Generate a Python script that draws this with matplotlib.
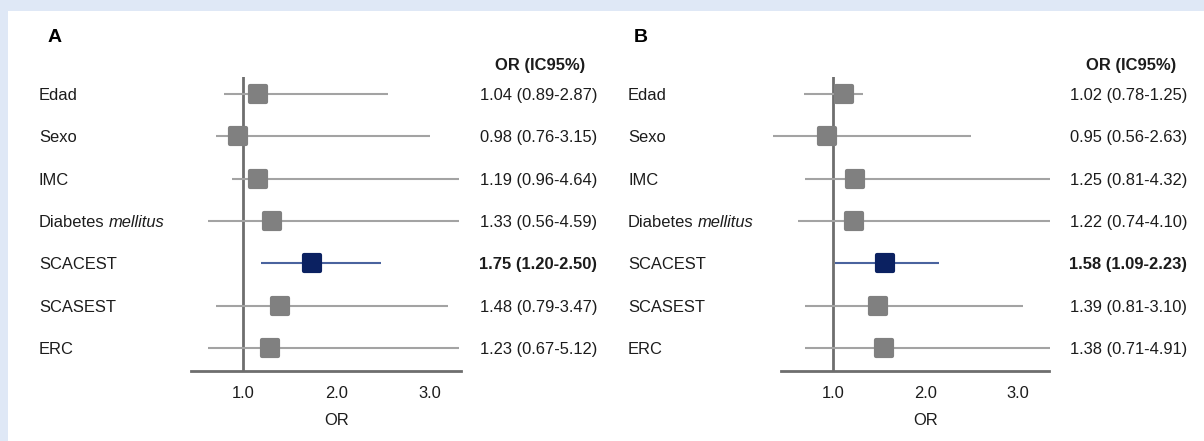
import matplotlib
matplotlib.use("Agg")
import matplotlib.pyplot as plt
from matplotlib.markers import MarkerStyle
from matplotlib.patches import Rectangle
from matplotlib.transforms import blended_transform_factory

plt.rcParams['font.family'] = ['Liberation Sans', 'DejaVu Sans']

# ---------------- data ----------------
variables = ["Edad", "Sexo", "IMC", "Diabetes", "SCACEST", "SCASEST", "ERC"]
italic_suffix = {"Diabetes": "mellitus"}
highlight = "SCACEST"
x_ticks = [1.0, 2.0, 3.0]
x_tick_labels = ["1.0", "2.0", "3.0"]

# Panel A
or_text_a = ["1.04 (0.89-2.87)", "0.98 (0.76-3.15)", "1.19 (0.96-4.64)",
             "1.33 (0.56-4.59)", "1.75 (1.20-2.50)", "1.48 (0.79-3.47)",
             "1.23 (0.67-5.12)"]
est_a = [1.16, 0.95, 1.16, 1.31, 1.74, 1.40, 1.29]
low_a = [0.80, 0.71, 0.88, 0.63, 1.19, 0.71, 0.63]
high_a = [2.55, 3.00, 3.31, 3.31, 2.48, 3.19, 3.31]

# Panel B
or_text_b = ["1.02 (0.78-1.25)", "0.95 (0.56-2.63)", "1.25 (0.81-4.32)",
             "1.22 (0.74-4.10)", "1.58 (1.09-2.23)", "1.39 (0.81-3.10)",
             "1.38 (0.71-4.91)"]
est_b = [1.12, 0.94, 1.24, 1.23, 1.56, 1.49, 1.55]
low_b = [0.69, 0.35, 0.70, 0.62, 1.02, 0.70, 0.70]
high_b = [1.32, 2.49, 3.35, 3.35, 2.15, 3.05, 3.35]

# ---------------- layout (pixels) ----------------
W, H = 1204, 441
fig = plt.figure(figsize=(W / 100, H / 100), dpi=100)
fig.patch.set_facecolor('#dfe8f6')
fig.add_artist(Rectangle((8 / W, 0), 1 - 8 / W, (H - 11) / H,
                         transform=fig.transFigure, facecolor='white',
                         edgecolor='none', zorder=-10))

TXT = '#1c1c1c'
GRAY_LINE = '#a3a3a3'
GRAY_SQ = '#808080'
NAVY_LINE = '#4a639e'
NAVY_SQ = '#0b2161'
AXIS_C = '#6e6e6e'
FS = 11.9

row_top_px, row_bot_px = 94, 348
ax_top_px, ax_bot_px = 77, 371
step = (row_bot_px - row_top_px) / (len(variables) - 1)

panels = [
    dict(letter="A", x1=243, scale=93.5, axl=191, axr=461, lab_x=39,
         val_r=597, head_c=540, let_x=48,
         est=est_a, low=low_a, high=high_a, txt=or_text_a),
    dict(letter="B", x1=833, scale=92.5, axl=781, axr=1049, lab_x=628,
         val_r=1187, head_c=1131, let_x=634,
         est=est_b, low=low_b, high=high_b, txt=or_text_b),
]

sq_marker = MarkerStyle('s', joinstyle='round')

for p in panels:
    ax = fig.add_axes([p['axl'] / W, (H - ax_bot_px) / H,
                       (p['axr'] - p['axl']) / W, (ax_bot_px - ax_top_px) / H])
    ax.set_facecolor('none')
    ax.set_xlim(1 + (p['axl'] - p['x1']) / p['scale'],
                1 + (p['axr'] - p['x1']) / p['scale'])
    ax.set_ylim((ax_bot_px - row_top_px) / step, (ax_top_px - row_top_px) / step)
    for s in ['top', 'right', 'left']:
        ax.spines[s].set_visible(False)
    ax.spines['bottom'].set_color(AXIS_C)
    ax.spines['bottom'].set_linewidth(2.0)
    ax.axvline(1.0, color=AXIS_C, lw=2.0, zorder=1)
    ax.set_yticks([])
    ax.set_xticks(x_ticks, x_tick_labels)
    ax.tick_params(axis='x', length=0, pad=10.5, labelsize=FS, labelcolor=TXT)

    tr_fig_y = blended_transform_factory(ax.transData, fig.transFigure)
    ax.text(2.0, (H - 419) / H, "OR", transform=tr_fig_y, ha='center',
            va='center_baseline', fontsize=FS, color=TXT)

    tr_lab = blended_transform_factory(fig.transFigure, ax.transData)
    for i, var in enumerate(variables):
        hl = var == highlight
        ax.plot([p['low'][i], p['high'][i]], [i, i],
                color=NAVY_LINE if hl else GRAY_LINE, lw=1.5,
                solid_capstyle='butt', zorder=2, clip_on=False)
        c = NAVY_SQ if hl else GRAY_SQ
        ax.plot([p['est'][i]], [i], marker=sq_marker, ms=11, mew=3,
                color=c, mec=c, mfc=c, zorder=3, clip_on=False)
        t = ax.text(p['lab_x'] / W, i, var, transform=tr_lab, ha='left',
                    va='center_baseline', fontsize=FS, color=TXT)
        if var in italic_suffix:
            ax.annotate(italic_suffix[var], xy=(1, 0), xycoords=t,
                        xytext=(3, 0), textcoords='offset points',
                        ha='left', va='bottom', fontsize=FS, color=TXT,
                        style='italic')
        ax.text(p['val_r'] / W, i, p['txt'][i], transform=tr_lab, ha='right',
                va='center_baseline', fontsize=FS, color=TXT,
                fontweight='bold' if hl else 'normal')

    fig.text(p['head_c'] / W, (H - 64) / H, "OR (IC95%)", ha='center',
             va='center_baseline', fontsize=FS, fontweight='bold', color=TXT)
    fig.text(p['let_x'] / W, (H - 35) / H, p['letter'], ha='left',
             va='center_baseline', fontsize=14, fontweight='bold', color='black')

fig.savefig("out.png", dpi=100, facecolor=fig.get_facecolor())
